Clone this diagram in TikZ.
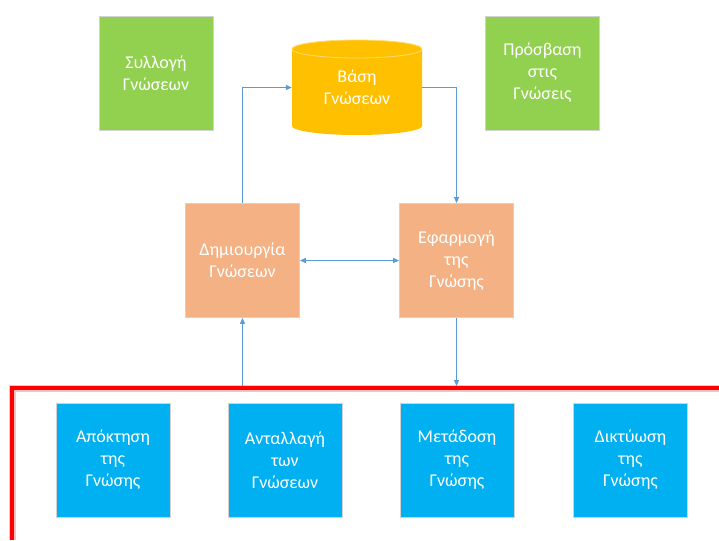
\documentclass[tikz,border=0pt]{standalone}
\usepackage{fontspec}
\setmainfont{Carlito}
\usetikzlibrary{arrows.meta}
\definecolor{greenbox}{HTML}{92D050}
\definecolor{orangebox}{HTML}{F4B183}
\definecolor{dbcolor}{HTML}{FFC000}
\definecolor{bluebox}{HTML}{00B0F0}
\definecolor{arrcolor}{HTML}{5B9BD5}

\begin{document}
\begin{tikzpicture}[x=1pt, y=-1pt,
    box/.style={draw=gray!35, line width=0.8pt, minimum width=114pt, minimum height=114pt, align=center, text=white, font=\fontsize{18}{22}\selectfont, inner sep=2pt},
    dbtext/.style={minimum width=130pt, minimum height=95pt, align=center, text=white, font=\fontsize{18}{22}\selectfont},
    arr/.style={-{Triangle[length=6pt,width=5pt]}, line width=1.1pt, color=arrcolor},
    arrboth/.style={{Triangle[length=6pt,width=5pt]}-{Triangle[length=6pt,width=5pt]}, line width=1.1pt, color=arrcolor},
    frame/.style={red, line width=4pt},
]
  \useasboundingbox (0,0) rectangle (719,540);

  % === Top row ===
  \node[box, fill=greenbox] (collect) at (156,73) {Συλλογή\\Γνώσεων};
  \node[box, fill=greenbox] (access) at (542.5,73) {Πρόσβαση\\στις\\Γνώσεις};

  % Knowledge base (cylinder drawn by hand, text node on top)
  \fill[dbcolor] (292,49) -- (292,126) arc[start angle=180, end angle=360, x radius=65pt, y radius=9pt]
    -- (422,49) arc[start angle=0, end angle=180, x radius=65pt, y radius=9pt] -- cycle;
  \draw[fill=dbcolor, draw=dbcolor!55!white, line width=0.8pt] (357,49) ellipse [x radius=65pt, y radius=9pt];
  \node[dbtext] (dbase) at (357,87.5) {Βάση\\Γνώσεων};

  % === Middle row ===
  \node[box, fill=orangebox] (create) at (242.5,260.5) {Δημιουργία\\Γνώσεων};
  \node[box, fill=orangebox] (apply) at (456.5,260.5) {Εφαρμογή\\της\\Γνώσης};

  % === Red frame ===
  \coordinate (corner) at (12,388);
  \coordinate (fend) at (719,388);
  \coordinate (fbot) at (12,540);
  \draw[red!25, line width=7pt] (fbot) -- (corner) -- (fend);
  \draw[frame] (fbot) -- (corner) -- (fend);

  % === Bottom row ===
  \node[box, fill=bluebox] (acquire) at (113,460) {Απόκτηση\\της\\Γνώσης};
  \node[box, fill=bluebox] (exchange) at (285,460) {Ανταλλαγή\\των\\Γνώσεων};
  \node[box, fill=bluebox] (transfer) at (457,460) {Μετάδοση\\της\\Γνώσης};
  \node[box, fill=bluebox] (network) at (630.5,460) {Δικτύωση\\της\\Γνώσης};

  % === Arrows ===
  \draw[arr] (create.north) |- (dbase.west);
  \draw[arr] (dbase.east) -| (apply.north);
  \draw[arrboth] (create.east) -- (apply.west);
  \draw[arr] (create.south |- corner) ++(0,-2) -- (create.south);
  \draw[arr, shorten >=2pt] (apply.south) -- (apply.south |- corner);
\end{tikzpicture}
\end{document}
